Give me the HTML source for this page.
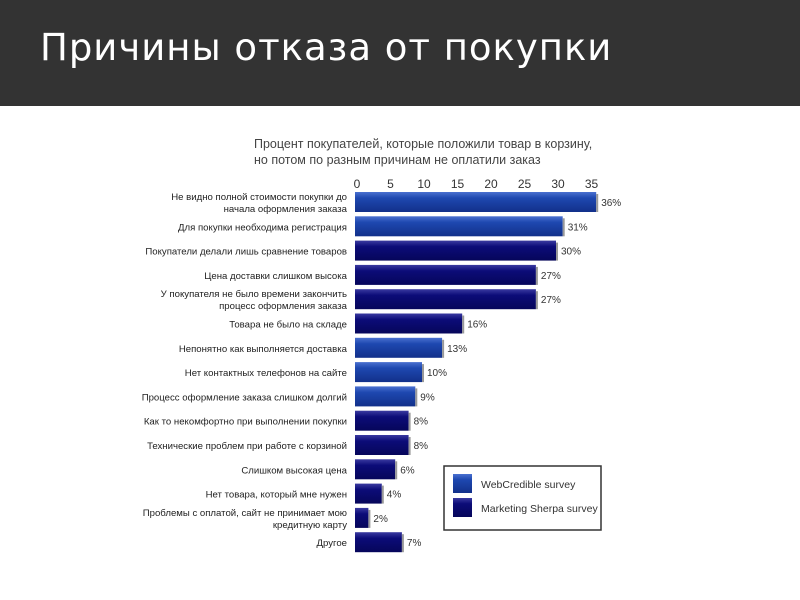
<!DOCTYPE html>
<html><head><meta charset="utf-8"><style>
body{margin:0;width:800px;height:600px;background:#fff;overflow:hidden;font-family:"Liberation Sans","DejaVu Sans",sans-serif}
#hdr{position:absolute;left:0;top:0;width:800px;height:106px;background:#333333}
#ttl{position:absolute;left:40px;top:26px;color:#fff;font-size:37px;font-family:"DejaVu Sans","Liberation Sans",sans-serif;letter-spacing:1px}
</style></head><body>
<div id="hdr"></div>
<div id="ttl">Причины отказа от покупки</div>
<svg id="chart" width="800" height="600" style="position:absolute;left:0;top:0">
<defs>
<linearGradient id="gW" x1="0" y1="0" x2="0" y2="1"><stop offset="0" stop-color="#4a70d0"/><stop offset="0.3" stop-color="#1e48b0"/><stop offset="1" stop-color="#12308a"/></linearGradient>
<linearGradient id="gM" x1="0" y1="0" x2="0" y2="1"><stop offset="0" stop-color="#3a3aa0"/><stop offset="0.3" stop-color="#0c0c78"/><stop offset="1" stop-color="#06065a"/></linearGradient>
</defs>
<text x="254" y="148" font-size="12.5" fill="#444">Процент покупателей, которые положили товар в корзину,</text>
<text x="254" y="164" font-size="12.5" fill="#444">но потом по разным причинам не оплатили заказ</text>
<rect x="444" y="466" width="157" height="64" fill="#fff" stroke="#333" stroke-width="1.5"/>
</svg>
<script>
const categories=[["Не видно полной стоимости покупки до","начала оформления заказа"],["Для покупки необходима регистрация"],["Покупатели делали лишь сравнение товаров"],["Цена доставки слишком высока"],["У покупателя не было времени закончить","процесс оформления заказа"],["Товара не было на складе"],["Непонятно как выполняется доставка"],["Нет контактных телефонов на сайте"],["Процесс оформление заказа слишком долгий"],["Как то некомфортно при выполнении покупки"],["Технические проблем при работе с корзиной"],["Слишком высокая цена"],["Нет товара, который мне нужен"],["Проблемы с оплатой, сайт не принимает мою","кредитную карту"],["Другое"]];
const values=[36,31,30,27,27,16,13,10,9,8,8,6,4,2,7];
const sources=["W","W","M","M","M","M","W","W","W","M","M","M","M","M","M"];
const ticks=[0,5,10,15,20,25,30,35];
const legendLabels=["WebCredible survey","Marketing Sherpa survey"];
const NS="http://www.w3.org/2000/svg",svg=document.getElementById('chart');
const x0=355,ppu=6.7,y0=202,step=24.3,bh=20;
const X=v=>x0+v*ppu, Y=i=>y0+i*step;
function el(t,a){const e=document.createElementNS(NS,t);for(const k in a)e.setAttribute(k,a[k]);svg.appendChild(e);return e;}
ticks.forEach(t=>{const e=el('text',{x:X(t)+2,y:188,'font-size':12,'text-anchor':'middle',fill:'#333'});e.textContent=t;

});
values.forEach((v,i)=>{
 const r=el('rect',{x:x0,y:Y(i)-bh/2,width:v*ppu,height:bh,fill:sources[i]=="W"?"url(#gW)":"url(#gM)"});
 
 
 const sh=el('rect',{x:X(v),y:Y(i)-bh/2+2,width:2,height:bh-2,fill:'#999'});
 
 
 const t=el('text',{x:X(v)+5,y:Y(i)+4,'font-size':10,fill:'#333'});t.textContent=v+'%';
 
 
 const lines=categories[i];
 lines.forEach((s,j)=>{const l=el('text',{x:347,y:Y(i)+4+(lines.length>1?(j-0.5)*12:0),'font-size':9.6,'text-anchor':'end',fill:'#222'});l.textContent=s;
 
 });
});
legendLabels.forEach((s,i)=>{
 const r=el('rect',{x:453,y:474+i*24,width:19,height:19,fill:i?"url(#gM)":"url(#gW)"});
 
 
 const t=el('text',{x:481,y:488+i*24,'font-size':10.5,fill:'#333'});t.textContent=s;
 
 
});
</script>
</body></html>
